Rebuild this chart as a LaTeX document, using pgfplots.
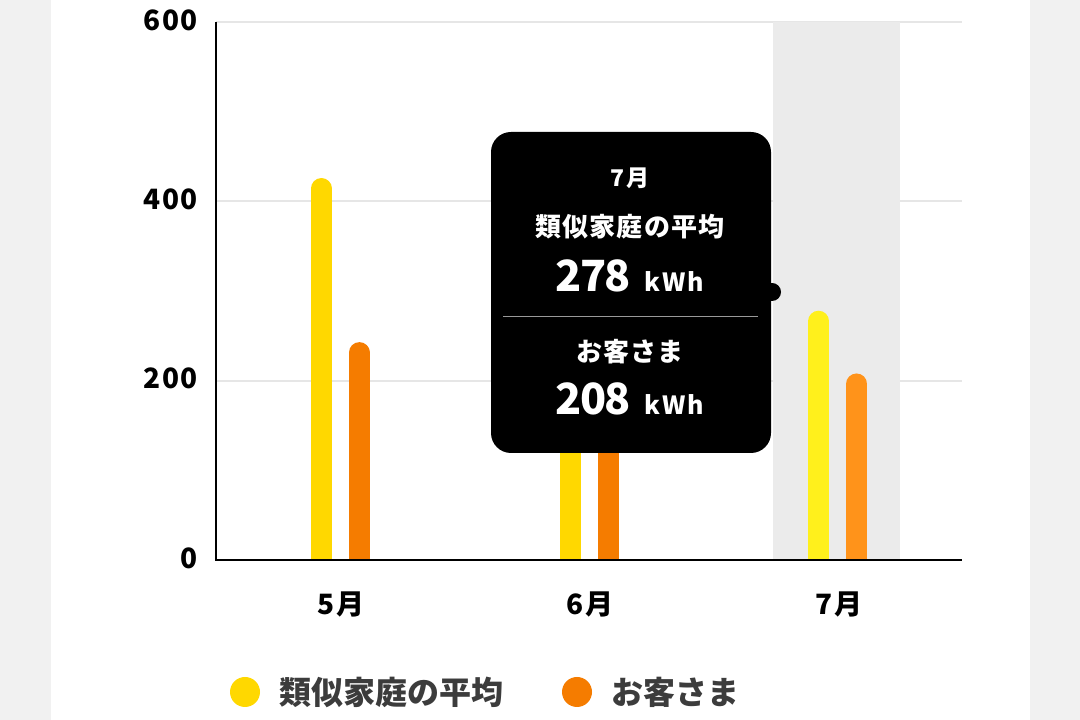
\documentclass[border=0pt]{standalone}
\usepackage{fontspec}
\setmainfont{Noto Sans CJK JP}
\usepackage{pgfplots}
\pgfplotsset{compat=1.18}
\definecolor{yel}{HTML}{FFD800}
\definecolor{ora}{HTML}{F57C00}
\definecolor{yelhi}{HTML}{FFF01C}
\definecolor{orahi}{HTML}{FF931A}
\definecolor{bandgray}{HTML}{EBEBEB}
\definecolor{gridgray}{HTML}{E6E6E6}
\definecolor{side}{HTML}{F1F1F1}
\definecolor{legtext}{HTML}{3C3C3C}
\begin{document}
\begin{tikzpicture}[x=1pt,y=1pt]
\fill[side] (0,0) rectangle (1080,720);
\fill[white] (51,0) rectangle (1030,720);
\begin{axis}[
 at={(216pt,160pt)}, anchor=south west, scale only axis,
 width=746pt, height=538pt,
 xmin=-0.5, xmax=2.5, ymin=0, ymax=600,
 xtick={0,1,2}, xticklabels={5月,6月,7月},
 ytick={0,200,400,600}, yticklabels={0,200,400,600},
 major tick length=0pt,
 axis line style={draw=none},
 ymajorgrids, major grid style={draw=gridgray, line width=2pt},
 xticklabel style={anchor=center, yshift=-44pt, xshift=1pt, font=\fontsize{28}{28}\selectfont\bfseries\addfontfeatures{LetterSpace=6}},
 yticklabel style={anchor=east, inner sep=0pt, xshift=-18pt, yshift=2pt, font=\fontsize{28}{28}\selectfont\bfseries\addfontfeatures{LetterSpace=6}},
 clip=true,
]
\fill[bandgray] (axis cs:1.74,0) rectangle (axis cs:2.25,600);
% 類似家庭の平均 (5月, 6月)
\addplot[ycomb, draw=yel, line width=21pt, line cap=round, xshift=-19pt, yshift=-10.5pt] coordinates {(0,426) (1,340)};
% お客さま (5月, 6月)
\addplot[ycomb, draw=ora, line width=21pt, line cap=round, xshift=19pt, yshift=-10.5pt] coordinates {(0,243) (1,262)};
% 7月 (highlighted)
\addplot[ycomb, draw=yelhi, line width=21pt, line cap=round, xshift=-19pt, yshift=-10.5pt] coordinates {(2,278)};
\addplot[ycomb, draw=orahi, line width=21pt, line cap=round, xshift=19pt, yshift=-10.5pt] coordinates {(2,208)};
\end{axis}
\draw[line width=2.5pt, line join=miter] (216,698) -- (216,160) -- (962,160);
% tooltip
\fill[black, rounded corners=20pt] (491,588) rectangle (771,267);
\fill[black] (772,428) circle (9);
\node[text=white, font=\fontsize{23}{23}\selectfont\bfseries\addfontfeatures{LetterSpace=8}] at (630,542) {7月};
\node[text=white, font=\fontsize{26}{26}\selectfont\bfseries\addfontfeatures{LetterSpace=4}] at (630,493) {類似家庭の平均};
\node[text=white, anchor=base, font=\bfseries] at (630,428) {{\fontsize{43}{43}\selectfont\addfontfeatures{LetterSpace=-4}278}\hspace{14pt}{\fontsize{25}{25}\selectfont\addfontfeatures{LetterSpace=8}kWh}};
\draw[color=gray!80, line width=1pt] (503,403) -- (758,403);
\node[text=white, font=\fontsize{26}{26}\selectfont\bfseries\addfontfeatures{LetterSpace=4}] at (630,368) {お客さま};
\node[text=white, anchor=base, font=\bfseries] at (630,305) {{\fontsize{43}{43}\selectfont\addfontfeatures{LetterSpace=-4}208}\hspace{14pt}{\fontsize{25}{25}\selectfont\addfontfeatures{LetterSpace=8}kWh}};
% legend
\fill[yel] (245,28) circle (15);
\node[anchor=west, text=legtext, inner sep=0pt, font=\fontsize{32}{32}\selectfont\bfseries] at (279,28) {類似家庭の平均};
\fill[ora] (577,28) circle (15);
\node[anchor=west, text=legtext, inner sep=0pt, font=\fontsize{32}{32}\selectfont\bfseries] at (611,28) {お客さま};
\pgfresetboundingbox
\useasboundingbox (0,0) rectangle (1080,720);
\end{tikzpicture}
\end{document}
